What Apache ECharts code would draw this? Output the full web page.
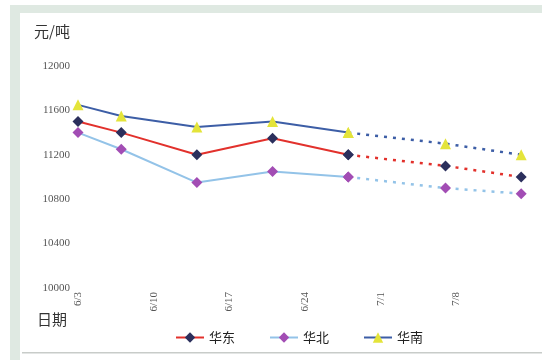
<!DOCTYPE html>
<html>
<head>
<meta charset="utf-8">
<script src="https://cdn.jsdelivr.net/npm/echarts@6/dist/echarts.min.js"></script>
<style>
  html, body { margin: 0; padding: 0; background: #fff; }
  #chart { width: 542px; height: 360px; }
</style>
</head>
<body>
<div id="chart"></div>
<script>
// 日期（周度价格 + 预测）
const dates = ['6/3', '6/7', '6/14', '6/21', '6/28', '7/7', '7/14']
const tickLabels = ['6/3', '6/10', '6/17', '6/24', '7/1', '7/8']
// 实线部分到 6/28，之后为虚线
const solidCount = 5

const eastValues = [11500, 11400, 11200, 11350, 11200, 11100, 11000]
const northValues = [11400, 11250, 10950, 11050, 11000, 10900, 10850]
const southValues = [11650, 11550, 11450, 11500, 11400, 11300, 11200]

const seriesNames = ['华东', '华北', '华南']

// 6/3 为第 0 天
function dayOffset(label) {
  const [m, d] = label.split('/').map(Number)
  return (m === 7 ? 30 : 0) + d - 3
}

function toPoints(values) {
  return values.map((v, i) => [dayOffset(dates[i]), v])
}

const styles = [
  { line: '#e2312c', mark: '#2b2f5c', symbol: 'diamond', size: 11 },
  { line: '#93c3e8', mark: '#a24db4', symbol: 'diamond', size: 11 },
  { line: '#3d5ea6', mark: '#e4e43a', symbol: 'triangle', size: 11 },
]

const allValues = [eastValues, northValues, southValues]
const series = []
allValues.forEach((vals, k) => {
  const pts = toPoints(vals)
  const st = styles[k]
  series.push({
    name: seriesNames[k],
    type: 'line',
    data: pts.slice(0, solidCount),
    symbol: st.symbol,
    symbolSize: st.size,
    lineStyle: { color: st.line, width: 2 },
    itemStyle: { color: st.mark },
    z: 3,
  })
  series.push({
    name: seriesNames[k],
    type: 'line',
    data: pts.slice(solidCount - 1),
    symbol: st.symbol,
    symbolSize: st.size,
    lineStyle: { color: st.line, width: 2.5, type: [3, 6] },
    itemStyle: { color: st.mark },
    z: 2,
  })
})

const chart = echarts.init(document.getElementById('chart'))
const labelFont = { fontFamily: 'Liberation Serif', fontSize: 11, color: '#555' }

chart.setOption({
  animation: false,
  backgroundColor: '#fff',
  grid: { left: 78, right: 10, top: 66, bottom: 72 },
  xAxis: {
    type: 'value',
    min: 0,
    max: 42,
    interval: 7,
    axisLine: { show: false },
    axisTick: { show: false },
    splitLine: { show: false },
    axisLabel: {
      ...labelFont,
      rotate: 90,
      margin: 4,
      showMaxLabel: false,
      formatter: (v) => tickLabels[v / 7] || '',
    },
  },
  yAxis: {
    type: 'value',
    min: 10000,
    max: 12000,
    interval: 400,
    axisLine: { show: false },
    axisTick: { show: false },
    splitLine: { show: false },
    axisLabel: { ...labelFont, margin: 8, formatter: (v) => String(v) },
  },
  legend: {
    data: seriesNames,
    bottom: 11,
    left: 170,
    itemGap: 34,
    itemWidth: 28,
    itemHeight: 13,
    textStyle: { fontFamily: 'Noto Sans CJK SC', fontSize: 13, color: '#222' },
  },
  graphic: [
    { type: 'rect', shape: { x: 10, y: 5, width: 532, height: 8 }, style: { fill: '#dfe9e2' }, silent: true },
    { type: 'rect', shape: { x: 10, y: 5, width: 10, height: 355 }, style: { fill: '#dfe9e2' }, silent: true },
    { type: 'rect', shape: { x: 22, y: 352, width: 520, height: 1.5 }, style: { fill: '#c8ccc9' }, silent: true },
    { type: 'text', left: 34, top: 24, style: { text: '元/吨', font: '15px "Noto Sans CJK SC"', fill: '#333' } },
    { type: 'text', left: 37, top: 312, style: { text: '日期', font: '15px "Noto Sans CJK SC"', fill: '#333' } },
  ],
  series,
})
</script>
</body>
</html>
